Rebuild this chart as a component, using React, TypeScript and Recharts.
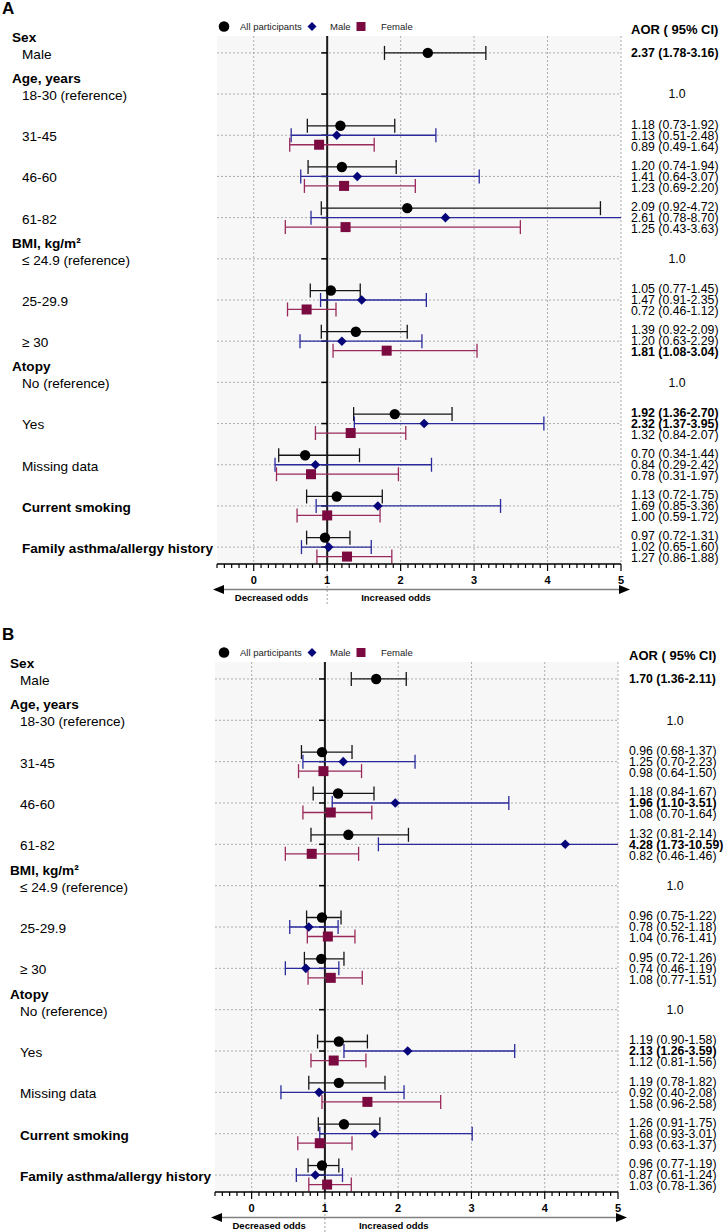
import React from 'react';
import { ScatterChart, Scatter, XAxis, YAxis, CartesianGrid, ErrorBar, ReferenceLine } from 'recharts';

const FONT = '"Liberation Sans", Arial, Helvetica, sans-serif';

// ---------- Rows (categories) ----------
const rowIndex = [0, 1, 2, 3, 4, 5, 6, 7, 8, 9, 10, 11, 12];
const rowLabels = [
  'Male', '18-30 (reference)', '31-45', '46-60', '61-82',
  '≤ 24.9 (reference)', '25-29.9', '≥ 30', 'No (reference)', 'Yes',
  'Missing data', 'Current smoking', 'Family asthma/allergy history',
];
const rowHeaders = ['Sex', 'Age, years', '', '', '', 'BMI, kg/m²', '', '', 'Atopy', '', '', '', ''];
const boldLabelRows = [11, 12];
const referenceRows = [1, 5, 8];

// ---------- X axis ----------
const X_MIN = -0.5;
const X_MAX = 5;
const majorTicks = [0, 1, 2, 3, 4, 5];
const allTicks = [
  -0.5, -0.4, -0.3, -0.2, -0.1, 0, 0.1, 0.2, 0.3, 0.4, 0.5, 0.6, 0.7, 0.8, 0.9, 1,
  1.1, 1.2, 1.3, 1.4, 1.5, 1.6, 1.7, 1.8, 1.9, 2, 2.1, 2.2, 2.3, 2.4, 2.5, 2.6, 2.7, 2.8, 2.9, 3,
  3.1, 3.2, 3.3, 3.4, 3.5, 3.6, 3.7, 3.8, 3.9, 4, 4.1, 4.2, 4.3, 4.4, 4.5, 4.6, 4.7, 4.8, 4.9, 5,
];
const Y_DOMAIN: [number, number] = [-0.41, 12.41];

// ---------- Panel A data ----------
const A_allOR = [2.37, null, 1.18, 1.20, 2.09, null, 1.05, 1.39, null, 1.92, 0.70, 1.13, 0.97];
const A_allLo = [1.78, null, 0.73, 0.74, 0.92, null, 0.77, 0.92, null, 1.36, 0.34, 0.72, 0.72];
const A_allHi = [3.16, null, 1.92, 1.94, 4.72, null, 1.45, 2.09, null, 2.70, 1.44, 1.75, 1.31];
const A_maleOR = [null, null, 1.13, 1.41, 2.61, null, 1.47, 1.20, null, 2.32, 0.84, 1.69, 1.02];
const A_maleLo = [null, null, 0.51, 0.64, 0.78, null, 0.91, 0.63, null, 1.37, 0.29, 0.85, 0.65];
const A_maleHi = [null, null, 2.48, 3.07, 8.70, null, 2.35, 2.29, null, 3.95, 2.42, 3.36, 1.60];
const A_femOR = [null, null, 0.89, 1.23, 1.25, null, 0.72, 1.81, null, 1.32, 0.78, 1.00, 1.27];
const A_femLo = [null, null, 0.49, 0.69, 0.43, null, 0.46, 1.08, null, 0.84, 0.31, 0.59, 0.86];
const A_femHi = [null, null, 1.64, 2.20, 3.63, null, 1.12, 3.04, null, 2.07, 1.97, 1.72, 1.88];

// ---------- Panel B data ----------
const B_allOR = [1.70, null, 0.96, 1.18, 1.32, null, 0.96, 0.95, null, 1.19, 1.19, 1.26, 0.96];
const B_allLo = [1.36, null, 0.68, 0.84, 0.81, null, 0.75, 0.72, null, 0.90, 0.78, 0.91, 0.77];
const B_allHi = [2.11, null, 1.37, 1.67, 2.14, null, 1.22, 1.26, null, 1.58, 1.82, 1.75, 1.19];
const B_maleOR = [null, null, 1.25, 1.96, 4.28, null, 0.78, 0.74, null, 2.13, 0.92, 1.68, 0.87];
const B_maleLo = [null, null, 0.70, 1.10, 1.73, null, 0.52, 0.46, null, 1.26, 0.40, 0.93, 0.61];
const B_maleHi = [null, null, 2.23, 3.51, 10.59, null, 1.18, 1.19, null, 3.59, 2.08, 3.01, 1.24];
const B_femOR = [null, null, 0.98, 1.08, 0.82, null, 1.04, 1.08, null, 1.12, 1.58, 0.93, 1.03];
const B_femLo = [null, null, 0.64, 0.70, 0.46, null, 0.76, 0.77, null, 0.81, 0.96, 0.63, 0.78];
const B_femHi = [null, null, 1.50, 1.64, 1.46, null, 1.41, 1.51, null, 1.56, 2.58, 1.37, 1.36];

// ---------- Series styling ----------
const seriesNames = ['All participants', 'Male', 'Female'];
const markerColors = ['#000000', '#06067a', '#7a0a40'];
const lineColors = ['#151515', '#2a2a9c', '#9a2a5c'];
const DODGE = 0.23;

type Arr = (number | null)[];
type SeriesData = { or: Arr; lo: Arr; hi: Arr };

function fmt(or: number, lo: number, hi: number) {
  return `${or.toFixed(2)} (${lo.toFixed(2)}-${hi.toFixed(2)})`;
}

function CircleShape(p: any) {
  if (p.cx == null) return null;
  return <circle cx={p.cx} cy={p.cy} r={5.2} fill={markerColors[0]} />;
}
function DiamondShape(p: any) {
  if (p.cx == null) return null;
  const h = 4.8;
  return <polygon points={`${p.cx},${p.cy - h} ${p.cx + h},${p.cy} ${p.cx},${p.cy + h} ${p.cx - h},${p.cy}`} fill={markerColors[1]} />;
}
function SquareShape(p: any) {
  if (p.cx == null) return null;
  const s = 10;
  return <rect x={p.cx - s / 2} y={p.cy - s / 2} width={s} height={s} fill={markerColors[2]} />;
}
const shapes = [CircleShape, DiamondShape, SquareShape];

function XTick(props: any) {
  const { x, y, payload } = props;
  const v = Number(payload.value);
  const major = Math.abs(v - Math.round(v)) < 1e-6;
  return (
    <g>
      <line x1={x} x2={x} y1={y} y2={y + (major ? 7 : 4)} stroke="#000" strokeWidth={1.2} />
      {major && (
        <text x={x} y={y + 20} textAnchor="middle" fontSize={11} fontWeight="bold" fill="#000" fontFamily={FONT}>
          {Math.round(v)}
        </text>
      )}
    </g>
  );
}

function BottomDeco(props: any) {
  const vb = props.viewBox;
  if (!vb) return null;
  const sx = (v: number) => vb.x + ((v - X_MIN) / (X_MAX - X_MIN)) * vb.width;
  const x1 = sx(1);
  const ay = vb.y + 25.5;
  const left = vb.x - 4;
  const right = vb.x + vb.width + 9;
  return (
    <g>
      <line x1={x1} x2={x1} y1={vb.y + 2} y2={vb.y + 41} stroke="#a0a0a0" strokeWidth={1} strokeDasharray="2 2" />
      <line x1={left + 8} x2={right - 8} y1={ay} y2={ay} stroke="#808080" strokeWidth={1.6} />
      <polygon points={`${left},${ay} ${left + 11},${ay - 4.5} ${left + 11},${ay + 4.5}`} fill="#000" />
      <polygon points={`${right},${ay} ${right - 11},${ay - 4.5} ${right - 11},${ay + 4.5}`} fill="#000" />
      <text x={x1 - 19} y={vb.y + 36.5} textAnchor="end" fontSize={9.5} fontWeight="bold" fill="#000" fontFamily={FONT}>
        Decreased odds
      </text>
      <text x={x1 + 34} y={vb.y + 36.5} textAnchor="start" fontSize={9.5} fontWeight="bold" fill="#000" fontFamily={FONT}>
        Increased odds
      </text>
    </g>
  );
}

type PanelCfg = {
  letter: string;
  top: number;
  height: number;
  leftW: number;
  rightW: number;
  headerX: number;
  itemX: number;
  series: SeriesData[];
};

const MARGIN_TOP = 36;
const X_AXIS_H = 51;

function Panel({ cfg }: { cfg: PanelCfg }) {
  const { series } = cfg;
  const multi = rowIndex.map((i) => series[1].or[i] != null || series[2].or[i] != null);

  const points = series.map((s, si) => {
    const pts: any[] = [];
    rowIndex.forEach((i) => {
      const v = s.or[i];
      if (v == null) return;
      const off = multi[i] ? (si - 1) * DODGE : 0;
      pts.push({ x: v, y: i + off, err: [v - (s.lo[i] as number), (s.hi[i] as number) - v] });
    });
    return pts;
  });

  const LeftTick = (props: any) => {
    const { y, payload } = props;
    const i = Math.round(Number(payload.value));
    const header = rowHeaders[i];
    const bold = boldLabelRows.includes(i);
    return (
      <g>
        {header && (
          <text x={cfg.headerX} y={y - 16 + 4.9} fontSize={13.6} fontWeight="bold" fill="#000" fontFamily={FONT}>
            {header}
          </text>
        )}
        <text x={cfg.itemX} y={y + 1 + 4.9} fontSize={13.6} fontWeight={bold ? 'bold' : 'normal'} fill="#000" fontFamily={FONT}>
          {rowLabels[i]}
        </text>
      </g>
    );
  };

  const RightTick = (props: any) => {
    const { x, y, payload } = props;
    const i = Math.round(Number(payload.value));
    const items: React.ReactNode[] = [];
    if (i === 0) {
      items.push(
        <text key="h" x={x} y={y - 24 + 4.7} fontSize={13} fontWeight="bold" fill="#000" fontFamily={FONT}>
          AOR ( 95% CI)
        </text>
      );
    }
    if (referenceRows.includes(i)) {
      items.push(
        <text key="r" x={x + 46} y={y + 4.3} fontSize={12.3} textAnchor="middle" fill="#000" fontFamily={FONT}>
          1.0
        </text>
      );
    } else {
      series.forEach((s, si) => {
        const v = s.or[i];
        if (v == null) return;
        const lo = s.lo[i] as number;
        const hi = s.hi[i] as number;
        const sig = lo > 1 || hi < 1;
        const off = multi[i] ? (si - 1) * 11 : 0;
        items.push(
          <text key={si} x={x} y={y + off + 4.3} fontSize={12.3} fontWeight={sig ? 'bold' : 'normal'} fill="#000" fontFamily={FONT}>
            {fmt(v, lo, hi)}
          </text>
        );
      });
    }
    return <g>{items}</g>;
  };

  const clipId = `plotclip${cfg.letter}`;
  const panelClass = `panel${cfg.letter}`;
  const plotW = 726 - cfg.leftW - cfg.rightW;
  const plotH = cfg.height - MARGIN_TOP - X_AXIS_H;

  return (
    <div className={panelClass} style={{ position: 'absolute', left: 0, top: cfg.top, width: 726, height: cfg.height }}>
      <style>{`.${panelClass} .recharts-errorBars, .${panelClass} .recharts-errorBar { clip-path: url(#${clipId}); }`}</style>
      <svg width={0} height={0} style={{ position: 'absolute', left: 0, top: 0 }}>
        <defs>
          <clipPath id={clipId} clipPathUnits="userSpaceOnUse">
            <rect x={cfg.leftW} y={MARGIN_TOP} width={plotW} height={plotH} />
          </clipPath>
        </defs>
      </svg>
      <ScatterChart width={726} height={cfg.height} margin={{ top: MARGIN_TOP, right: 0, bottom: 0, left: 0 }}>
        <CartesianGrid
          fill="#f7f7f7"
          stroke="#9a9a9a"
          strokeWidth={0.8}
          strokeDasharray="2 2"
          verticalValues={majorTicks}
          horizontalValues={rowIndex}
        />
        <XAxis
          dataKey="x"
          type="number"
          domain={[X_MIN, X_MAX]}
          ticks={allTicks}
          interval={0}
          allowDataOverflow
          tickSize={0}
          tickMargin={0}
          tickLine={false}
          axisLine={{ stroke: '#000', strokeWidth: 1.5 }}
          tick={<XTick />}
          height={X_AXIS_H}
          label={<BottomDeco />}
        />
        <YAxis
          dataKey="y"
          type="number"
          domain={Y_DOMAIN}
          reversed
          ticks={rowIndex}
          interval={0}
          allowDataOverflow
          axisLine={false}
          tickLine={false}
          width={cfg.leftW}
          tick={<LeftTick />}
        />
        <YAxis
          yAxisId="r"
          orientation="right"
          type="number"
          domain={Y_DOMAIN}
          reversed
          ticks={rowIndex}
          interval={0}
          allowDataOverflow
          axisLine={false}
          tickLine={false}
          tickSize={0}
          tickMargin={cfg.rightW > 106 ? 11 : 10}
          width={cfg.rightW}
          tick={<RightTick />}
        />
        <ReferenceLine x={1} stroke="#1a1a1a" strokeWidth={2} />
        {rowIndex.map((r) => (
          <ReferenceLine
            key={`t${r}`}
            segment={[{ x: 0.92, y: r }, { x: 1, y: r }]}
            stroke="#000"
            strokeWidth={1.5}
          />
        ))}
        {points.map((pts, si) => (
          <Scatter
            key={si}
            name={seriesNames[si]}
            data={pts}
            shape={shapes[si]}
            isAnimationActive={false}
          >
            <ErrorBar
              dataKey="err"
              direction="x"
              stroke={lineColors[si]}
              strokeWidth={1.3}
              width={7}
              isAnimationActive={false}
            />
          </Scatter>
        ))}
      </ScatterChart>
      <div
        style={{
          position: 'absolute', left: 2, top: -1, fontFamily: FONT, fontWeight: 'bold', fontSize: 17, lineHeight: '20px', color: '#000',
        }}
      >
        {cfg.letter}
      </div>
      <svg width={726} height={16} style={{ position: 'absolute', left: 0, top: 19 }}>
        <circle cx={224} cy={7.5} r={5.3} fill={markerColors[0]} />
        <text x={240} y={11} fontSize={9.5} fill="#222" fontFamily={FONT}>{seriesNames[0]}</text>
        <polygon points="312,3 316.5,7.5 312,12 307.5,7.5" fill={markerColors[1]} />
        <text x={330} y={11} fontSize={9.5} fill="#222" fontFamily={FONT}>{seriesNames[1]}</text>
        <rect x={356.5} y={3} width={9} height={9} fill={markerColors[2]} />
        <text x={381} y={11} fontSize={9.5} fill="#222" fontFamily={FONT}>{seriesNames[2]}</text>
      </svg>
    </div>
  );
}

const panelA: PanelCfg = {
  letter: 'A', top: 0, height: 615, leftW: 217, rightW: 105, headerX: 12, itemX: 22,
  series: [
    { or: A_allOR, lo: A_allLo, hi: A_allHi },
    { or: A_maleOR, lo: A_maleLo, hi: A_maleHi },
    { or: A_femOR, lo: A_femLo, hi: A_femHi },
  ],
};
const panelB: PanelCfg = {
  letter: 'B', top: 626, height: 617, leftW: 215, rightW: 108, headerX: 10, itemX: 20,
  series: [
    { or: B_allOR, lo: B_allLo, hi: B_allHi },
    { or: B_maleOR, lo: B_maleLo, hi: B_maleHi },
    { or: B_femOR, lo: B_femLo, hi: B_femHi },
  ],
};

export default function App() {
  return (
    <div style={{ position: 'absolute', left: 0, top: 0, width: 726, height: 1232, background: '#fff', fontFamily: FONT, overflow: 'hidden' }}>
      <Panel cfg={panelA} />
      <Panel cfg={panelB} />
    </div>
  );
}
